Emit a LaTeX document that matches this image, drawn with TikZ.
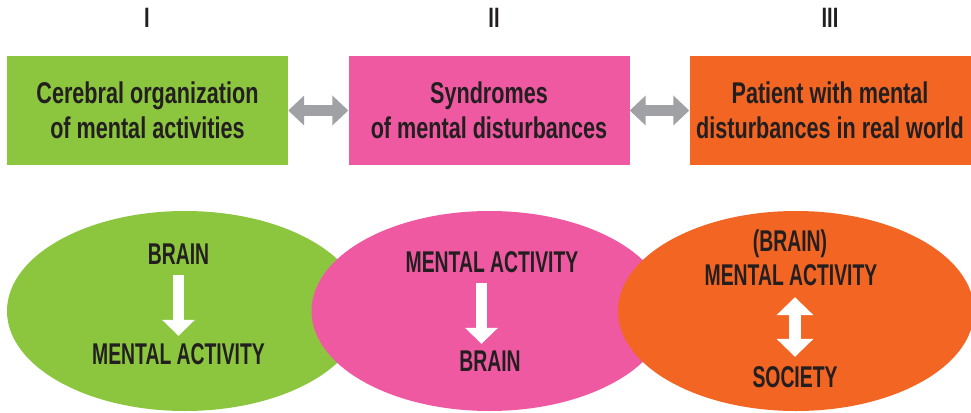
\documentclass[tikz,border=0pt]{standalone}
\usepackage{fontspec}
\usetikzlibrary{arrows.meta}
\newfontfamily\condbox{Liberation Sans}[FakeStretch=0.72]
\newfontfamily\condcap{Liberation Sans}[FakeStretch=0.645]
\definecolor{cgreen}{HTML}{8CC63F}
\definecolor{cpink}{HTML}{EF59A1}
\definecolor{corange}{HTML}{F26522}
\definecolor{cgrey}{HTML}{A0A1A4}
\definecolor{cdark}{HTML}{231F20}
\tikzset{
  topbox/.style={minimum width=281pt, minimum height=109pt, inner sep=0pt, align=center,
    text=cdark, font=\condbox\bfseries\fontsize{30}{35}\selectfont},
  numeral/.style={anchor=base, inner sep=0pt, text=cdark, font=\condbox\bfseries\fontsize{28}{35}\selectfont},
  bubble/.style={ellipse, minimum width=356pt, minimum height=200pt, inner sep=0pt},
  captxt/.style={anchor=base, inner sep=0pt, text height=22pt, text depth=6pt, text=cdark,
    font=\condcap\bfseries\fontsize{30}{35}\selectfont},
  greyarrow/.style={draw=cgrey, line width=11pt, {Triangle[width=29pt,length=16pt]}-{Triangle[width=29pt,length=16pt]}},
  whitearrow/.style={draw=white, line width=11pt, -{Triangle[width=32pt,length=16pt]}},
  whitedouble/.style={draw=white, line width=12pt, {Triangle[width=36pt,length=18pt]}-{Triangle[width=36pt,length=18pt]}},
}
\usetikzlibrary{shapes.geometric}
\begin{document}
\begin{tikzpicture}[x=1pt,y=-1pt]
\useasboundingbox (0,0) rectangle (971,412);
% numerals
\node[numeral] (n1) at (147,28) {I};
\node[numeral] (n2) at (494,28) {II};
\node[numeral] (n3) at (830,28) {III};
% top boxes
\node[topbox, fill=cgreen] (b1) at (147.5,110.5) {Cerebral organization\\of mental activities};
\node[topbox, fill=cpink] (b2) at (489,110.5) {Syndromes\\of mental disturbances};
\node[topbox, fill=corange] (b3) at (830,110.5) {Patient with mental\\disturbances in real world};
\draw[greyarrow] (b1.east) -- (b2.west);
\draw[greyarrow] (b2.east) -- (b3.west);
% ellipses
\node[bubble, fill=cgreen] (e1) at (185,311) {};
\node[bubble, fill=cpink] (e2) at (489.5,311) {};
\node[bubble, fill=corange] (e3) at (796,311) {};
% green texts
\node[captxt] (g1) at (178.5,264) {BRAIN};
\node[captxt] (g2) at (178.5,364) {MENTAL ACTIVITY};
\draw[whitearrow, shorten <=5pt, shorten >=6pt] (g1.south) -- (g2.north);
% pink texts
\node[captxt] (p1) at (492,272) {MENTAL ACTIVITY};
\node[captxt] (p2) at (490,371) {BRAIN};
\draw[whitearrow, shorten <=5pt, shorten >=5pt] (p1.south -| 481.5,0) -- (p2.north -| 481.5,0);
% orange texts
\node[captxt] (o0) at (790,251) {(BRAIN)};
\node[captxt] (o1) at (791,285) {MENTAL ACTIVITY};
\node[captxt] (o2) at (795,387) {SOCIETY};
\draw[whitedouble, shorten <=6pt, shorten >=8pt] (o1.south -| o2.north) -- (o2.north);
\end{tikzpicture}
\end{document}
